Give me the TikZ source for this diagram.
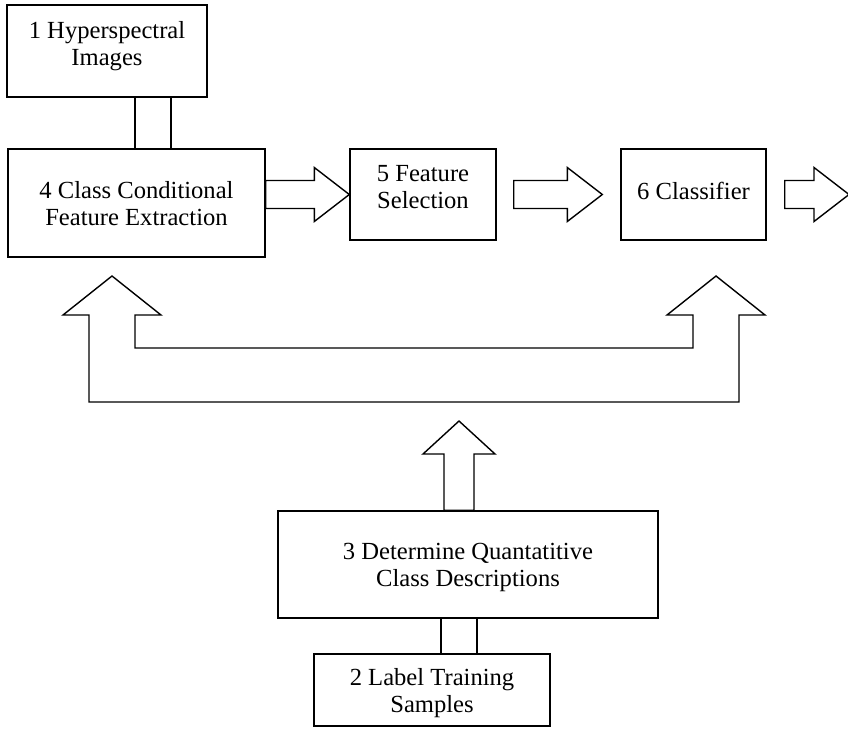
\documentclass[tikz,border=0pt]{standalone}
\usepackage{fontspec}
\setmainfont{Liberation Serif}
\usetikzlibrary{positioning,calc}

\tikzset{
  box/.style={draw, line width=1.4pt, align=center, inner sep=0pt, text depth=0pt,
    font=\fontsize{24.6}{27}\selectfont},
  blk/.style={draw, line width=1.4pt, line join=miter, fill=white},
  twin/.style={line width=1.4pt},
}

\begin{document}
\begin{tikzpicture}[x=1pt,y=-1pt]
  \useasboundingbox (0,0) rectangle (848,728);

  % blocks
  \node[box, minimum width=200, minimum height=92, text depth=16pt] (hsi) at (107,51) {1 Hyperspectral\\Images};
  \node[box, minimum width=257, minimum height=108] (cfe) at (136.5,203) {4 Class Conditional\\Feature Extraction};
  \node[box, minimum width=146, minimum height=91, text depth=16pt] (fsel) at (423,194.5) {5 Feature\\Selection};
  \node[box, minimum width=145, minimum height=91, text depth=8pt] (clf) at (693.5,194.5) {6 Classifier};
  \node[box, minimum width=380, minimum height=107] (qcd) at (468,564.5) {3 Determine Quantatitive\\Class Descriptions};
  \node[box, minimum width=236, minimum height=72] (lts) at (432,690) {2 Label Training\\Samples};

  % double-line links
  \foreach \dx in {28,64}{
    \path (hsi.south) ++(\dx,0) coordinate (h\dx);
    \draw[twin] (h\dx) -- (h\dx |- cfe.north);
  }
  \foreach \dx in {9,45}{
    \path (lts.north) ++(\dx,0) coordinate (l\dx);
    \draw[twin] (l\dx) -- (l\dx |- qcd.south);
  }

  % block arrows to the right
  \coordinate (a1s) at (cfe.east |- fsel.west);
  \coordinate (a1e) at (fsel.west);
  \coordinate (a2s) at ($(fsel.east)+(17,0)$);
  \coordinate (a2e) at ($(clf.west)+(-18,0)$);
  \coordinate (a3s) at ($(clf.east)+(18,0)$);
  \coordinate (a3e) at (849,195);
  \foreach \i in {1,2,3}{
    \draw[blk] let \p1=(a\i s), \p2=(a\i e) in
      (\x1,\y1+14pt) -- (\x2-35pt,\y1+14pt) -- (\x2-35pt,\y1+27pt) -- (\x2,\y1)
      -- (\x2-35pt,\y1-27pt) -- (\x2-35pt,\y1-14pt) -- (\x1,\y1-14pt) -- cycle;
  }

  % up arrow from the descriptions
  \coordinate (mt) at (459,421);
  \draw[blk] let \p1=(mt), \p2=(qcd.north) in
    (\x1-15pt,\y2) -- (\x1-15pt,\y1-33pt) -- (\x1-36pt,\y1-33pt) -- (mt)
    -- (\x1+36pt,\y1-33pt) -- (\x1+15pt,\y1-33pt) -- (\x1+15pt,\y2) -- cycle;

  % fork to extraction and classifier
  \coordinate (lt) at (112,276);
  \coordinate (rt) at (716,276);
  \draw[blk] (89,402) -- (89,315) -- (63,315) -- (lt) -- (161,315) -- (135,315)
    -- (135,348) -- (693,348) -- (693,315) -- (667,315) -- (rt) -- (765,315)
    -- (739,315) -- (739,402) -- cycle;
\end{tikzpicture}
\end{document}
